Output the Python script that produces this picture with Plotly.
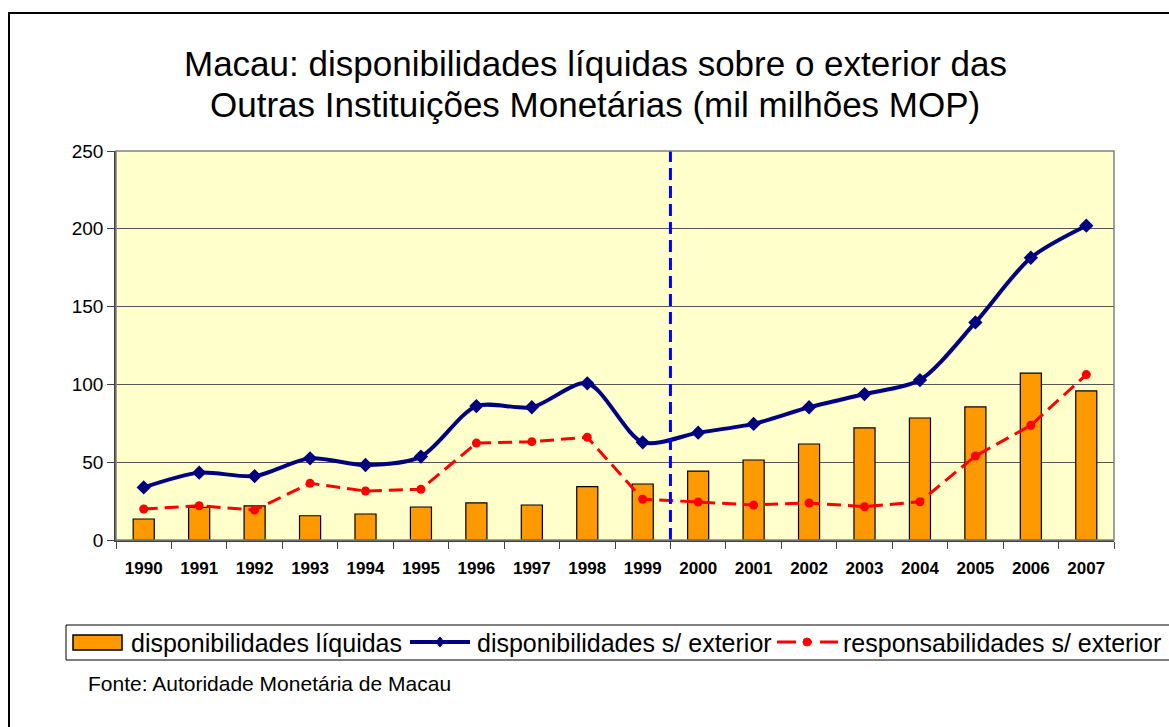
import plotly.graph_objects as go

years = list(range(1990, 2008))
year_labels = [str(y) for y in years]

liquidas = [13.5, 21.0, 21.9, 15.6, 16.7, 21.2, 23.8, 22.5, 34.3, 36.0,
            44.3, 51.4, 61.7, 72.0, 78.4, 85.5, 107.3, 95.8]
disp_ext = [33.8, 43.3, 41.1, 52.5, 48.2, 53.6, 86.1, 85.3, 100.7, 62.8,
            69.0, 74.6, 85.3, 93.8, 102.8, 139.8, 181.4, 202.0]
resp_ext = [19.9, 22.0, 19.3, 36.4, 31.5, 32.6, 62.3, 63.2, 66.0, 26.2,
            24.4, 22.5, 23.8, 21.4, 24.6, 54.0, 73.7, 106.3]

series_names = ["disponibilidades líquidas", "disponibilidades s/ exterior",
                "responsabilidades s/ exterior"]

break_year = 1999.5
y_ticks = [0, 50, 100, 150, 200, 250]

title_lines = ["Macau: disponibilidades líquidas sobre o exterior das",
               "Outras Instituições Monetárias (mil milhões MOP)"]
source_text = "Fonte: Autoridade Monetária de Macau"

FONT = "Liberation Sans, Arial, sans-serif"
ORANGE, NAVY, RED = "#FF9900", "#000080", "#FF0000"

# plot area in pixels
L, R, T, B = 116, 1114, 151, 540
PW, PH = R - L, B - T


def px(xp):
    return (xp - L) / PW


def py(yp):
    return (B - yp) / PH


fig = go.Figure()
fig.add_trace(go.Bar(
    x=years, y=liquidas, name=series_names[0],
    marker=dict(color=ORANGE, line=dict(color="black", width=1.2)),
    width=0.38,
))
fig.add_trace(go.Scatter(
    x=years, y=disp_ext, name=series_names[1],
    mode="lines+markers",
    line=dict(color=NAVY, width=4, shape="spline", smoothing=0.8),
    marker=dict(symbol="diamond", size=11, color=NAVY),
))
fig.add_trace(go.Scatter(
    x=years, y=resp_ext, name=series_names[2],
    mode="lines+markers",
    line=dict(color=RED, width=3, dash="14px,7px"),
    marker=dict(symbol="circle", size=9, color=RED),
))

shapes = []
# vertical dashed separator
shapes.append(dict(type="line", xref="x", yref="paper", x0=break_year, x1=break_year,
                   y0=0, y1=1, line=dict(color="#0000FF", width=3, dash="12px,6px")))
# outer chart border (left and top visible)
shapes.append(dict(type="rect", xref="paper", yref="paper",
                   x0=px(9), x1=px(1300), y0=py(900), y1=py(13),
                   line=dict(color="black", width=2), layer="below"))
# plot area border (gray)
shapes.append(dict(type="rect", xref="paper", yref="paper", x0=0, x1=1, y0=0, y1=1,
                   line=dict(color="#808080", width=1.5), layer="above"))

# ---- manual legend (Excel style) ----
LY = 642
shapes.append(dict(type="rect", xref="paper", yref="paper",
                   x0=px(66), x1=px(1190), y0=py(660), y1=py(625),
                   line=dict(color="black", width=1), fillcolor="white"))
# bar swatch
shapes.append(dict(type="rect", xref="paper", yref="paper",
                   x0=px(73), x1=px(122), y0=py(650), y1=py(635),
                   line=dict(color="black", width=1.5), fillcolor=ORANGE))
# navy line swatch + diamond
shapes.append(dict(type="line", xref="paper", yref="paper",
                   x0=px(410), x1=px(470), y0=py(LY), y1=py(LY),
                   line=dict(color=NAVY, width=4)))
shapes.append(dict(type="path", xref="paper", yref="paper",
                   path="M {a},{b} L {c},{d} L {a},{e} L {f},{d} Z".format(
                       a=px(440), b=py(LY - 5), c=px(444), d=py(LY), e=py(LY + 5), f=px(436)),
                   line=dict(color=NAVY, width=1), fillcolor=NAVY))
# red dashed swatch + circle
shapes.append(dict(type="line", xref="paper", yref="paper",
                   x0=px(777), x1=px(796), y0=py(LY), y1=py(LY),
                   line=dict(color=RED, width=3)))
shapes.append(dict(type="line", xref="paper", yref="paper",
                   x0=px(803), x1=px(812), y0=py(LY), y1=py(LY),
                   line=dict(color=RED, width=3)))
shapes.append(dict(type="line", xref="paper", yref="paper",
                   x0=px(820), x1=px(838), y0=py(LY), y1=py(LY),
                   line=dict(color=RED, width=3)))
shapes.append(dict(type="circle", xref="paper", yref="paper",
                   x0=px(803), x1=px(811), y0=py(LY + 4), y1=py(LY - 4),
                   line=dict(color=RED, width=1), fillcolor=RED))

annotations = []
for text, xs in zip(series_names, [129, 475, 841]):
    annotations.append(dict(text=text, xref="paper", yref="paper",
                            x=px(xs), y=py(LY + 1), xanchor="left", yanchor="middle",
                            showarrow=False,
                            font=dict(family=FONT, size=25, color="black")))

# title lines
for line, yc in zip(title_lines, [64, 104]):
    annotations.append(dict(text=line, xref="paper", yref="paper",
                            x=px(595), y=py(yc), xanchor="center", yanchor="middle",
                            showarrow=False,
                            font=dict(family=FONT, size=35, color="black")))

annotations.append(dict(text=source_text, xref="paper", yref="paper",
                        x=px(86), y=py(683), xanchor="left", yanchor="middle",
                        showarrow=False,
                        font=dict(family=FONT, size=21, color="black")))

boundaries = [y - 0.5 for y in years] + [years[-1] + 0.5]

fig.update_layout(
    width=1169, height=727,
    margin=dict(l=L, r=1169 - R, t=T, b=727 - B),
    paper_bgcolor="white",
    plot_bgcolor="#FFFFCC",
    font=dict(family=FONT, color="black"),
    shapes=shapes,
    annotations=annotations,
    showlegend=False,
    xaxis=dict(
        range=[1989.5, 2007.5],
        tickvals=years, ticktext=year_labels, ticks="",
        tickfont=dict(family=FONT, size=17, color="black", weight="bold"),
        ticklabelstandoff=12,
        showgrid=False, zeroline=False,
        showline=True, linecolor="#404040", linewidth=1.5, mirror=False,
        minor=dict(tickvals=boundaries, ticks="outside", ticklen=7,
                   tickcolor="#404040", showgrid=False),
    ),
    yaxis=dict(
        range=[0, 250], tickvals=y_ticks,
        ticks="outside", ticklen=7, tickcolor="#404040",
        tickfont=dict(family=FONT, size=19, color="black"),
        showgrid=True, gridcolor="#555555", gridwidth=1,
        zeroline=False,
        showline=True, linecolor="#404040", linewidth=1.5,
    ),
)

fig.write_html(
    "out.html",
    config={"displayModeBar": False},
    post_script="document.body.style.margin='0';document.body.style.padding='0';document.body.style.overflow='hidden';",
)
